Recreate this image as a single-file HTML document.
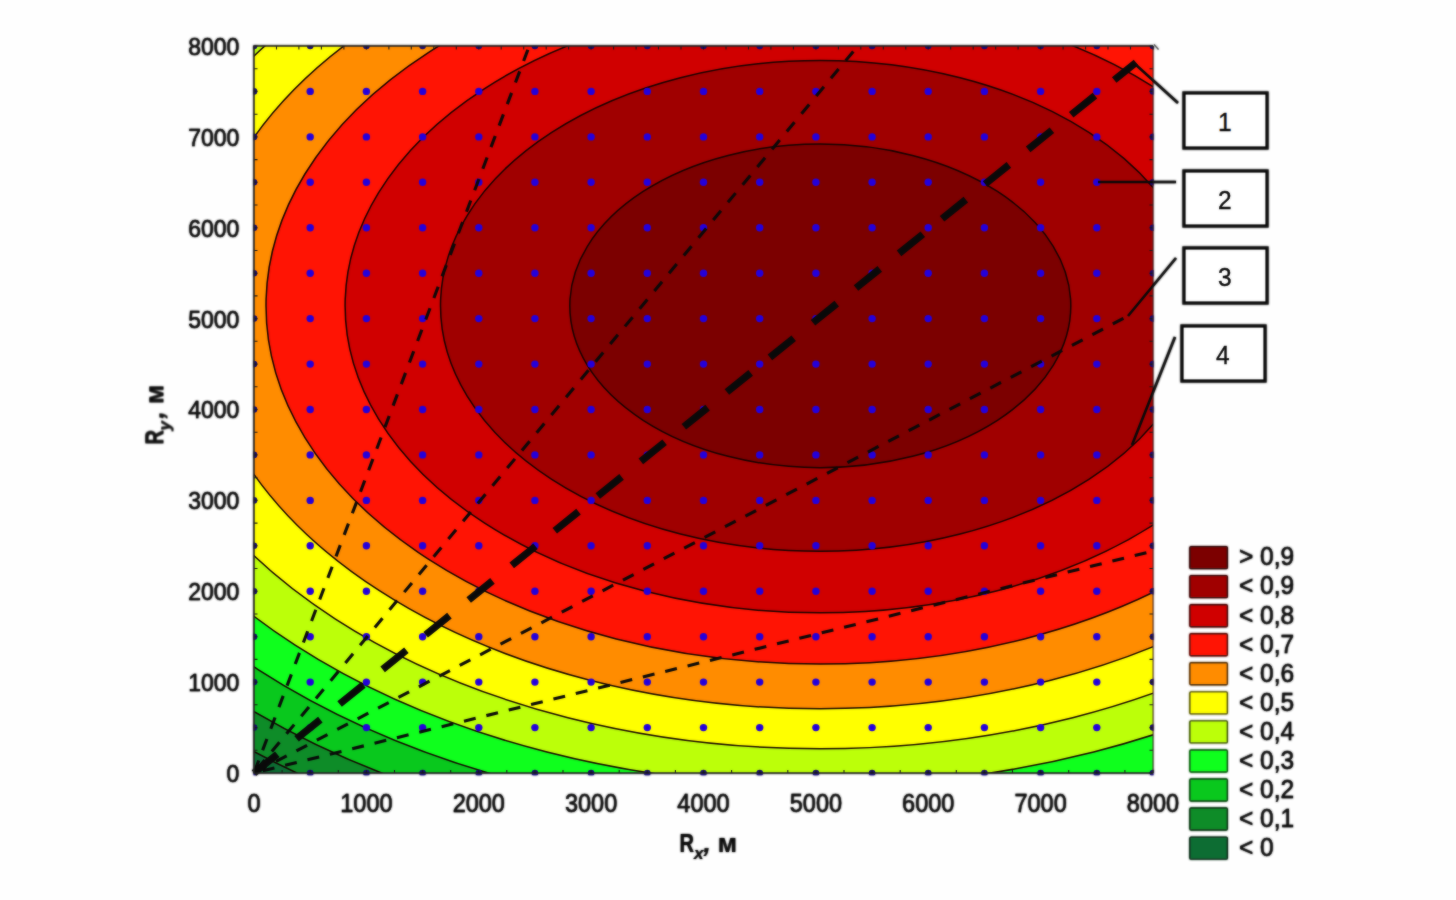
<!DOCTYPE html>
<html><head><meta charset="utf-8"><title>chart</title>
<style>html,body{margin:0;padding:0;background:#fefefe;}svg{display:block;}text{font-family:"Liberation Sans",sans-serif;fill:#0a0a0a;stroke:#0a0a0a;stroke-width:0.38px;}.ax text{stroke-width:0.15px;}</style></head>
<body>
<svg width="1456" height="900" viewBox="0 0 1456 900">
<rect x="0" y="0" width="1456" height="900" fill="#fefefe"/>
<defs><clipPath id="pc"><rect x="254" y="46" width="899" height="727"/></clipPath><clipPath id="pc2"><rect x="253.5" y="46" width="900" height="729.2"/></clipPath><filter id="sf" x="0" y="0" width="100%" height="100%" filterUnits="userSpaceOnUse" color-interpolation-filters="sRGB"><feGaussianBlur stdDeviation="0.8"/></filter></defs>
<g filter="url(#sf)">
<g clip-path="url(#pc)">
<rect x="254" y="46" width="899" height="727" fill="#0e6e34"/>
<path d="M-72.1 305.85A892.4 576.6 0 0 1 1712.7 305.85A892.4 576.6 0 0 1 -72.1 305.85Z" fill="#0f8c28" stroke="#160400" stroke-width="1.5"/>
<path d="M-25.2 305.85A845.5 546.3 0 0 1 1665.8 305.85A845.5 546.3 0 0 1 -25.2 305.85Z" fill="#0ac81e" stroke="#160400" stroke-width="1.5"/>
<path d="M24.5 305.85A795.8 514.2 0 0 1 1616.1 305.85A795.8 514.2 0 0 1 24.5 305.85Z" fill="#10ff1e" stroke="#160400" stroke-width="1.5"/>
<path d="M77.5 305.85A742.8 480.0 0 0 1 1563.1 305.85A742.8 480.0 0 0 1 77.5 305.85Z" fill="#bcff0a" stroke="#160400" stroke-width="1.5"/>
<path d="M134.5 305.85A685.8 443.1 0 0 1 1506.1 305.85A685.8 443.1 0 0 1 134.5 305.85Z" fill="#ffff00" stroke="#160400" stroke-width="1.5"/>
<path d="M196.8 305.85A623.5 402.9 0 0 1 1443.8 305.85A623.5 402.9 0 0 1 196.8 305.85Z" fill="#ff8c00" stroke="#160400" stroke-width="1.5"/>
<path d="M266.0 305.85A554.3 358.2 0 0 1 1374.6 305.85A554.3 358.2 0 0 1 266.0 305.85Z" fill="#ff1405" stroke="#160400" stroke-width="1.5"/>
<path d="M345.1 305.85A475.2 307.0 0 0 1 1295.5 305.85A475.2 307.0 0 0 1 345.1 305.85Z" fill="#d00000" stroke="#160400" stroke-width="1.5"/>
<path d="M440.5 305.85A379.8 245.4 0 0 1 1200.1 305.85A379.8 245.4 0 0 1 440.5 305.85Z" fill="#a00000" stroke="#160400" stroke-width="1.5"/>
<path d="M569.8 305.85A250.5 161.8 0 0 1 1070.8 305.85A250.5 161.8 0 0 1 569.8 305.85Z" fill="#7d0000" stroke="#160400" stroke-width="1.5"/>
<g fill="#2400dc">
<circle cx="310.2" cy="727.6" r="3.7"/>
<circle cx="310.2" cy="682.1" r="3.7"/>
<circle cx="310.2" cy="636.7" r="3.7"/>
<circle cx="310.2" cy="591.2" r="3.7"/>
<circle cx="310.2" cy="545.8" r="3.7"/>
<circle cx="310.2" cy="500.4" r="3.7"/>
<circle cx="310.2" cy="454.9" r="3.7"/>
<circle cx="310.2" cy="409.5" r="3.7"/>
<circle cx="310.2" cy="364.1" r="3.7"/>
<circle cx="310.2" cy="318.6" r="3.7"/>
<circle cx="310.2" cy="273.2" r="3.7"/>
<circle cx="310.2" cy="227.8" r="3.7"/>
<circle cx="310.2" cy="182.3" r="3.7"/>
<circle cx="310.2" cy="136.9" r="3.7"/>
<circle cx="310.2" cy="91.4" r="3.7"/>
<circle cx="366.4" cy="727.6" r="3.7"/>
<circle cx="366.4" cy="682.1" r="3.7"/>
<circle cx="366.4" cy="636.7" r="3.7"/>
<circle cx="366.4" cy="591.2" r="3.7"/>
<circle cx="366.4" cy="545.8" r="3.7"/>
<circle cx="366.4" cy="500.4" r="3.7"/>
<circle cx="366.4" cy="454.9" r="3.7"/>
<circle cx="366.4" cy="409.5" r="3.7"/>
<circle cx="366.4" cy="364.1" r="3.7"/>
<circle cx="366.4" cy="318.6" r="3.7"/>
<circle cx="366.4" cy="273.2" r="3.7"/>
<circle cx="366.4" cy="227.8" r="3.7"/>
<circle cx="366.4" cy="182.3" r="3.7"/>
<circle cx="366.4" cy="136.9" r="3.7"/>
<circle cx="366.4" cy="91.4" r="3.7"/>
<circle cx="422.6" cy="727.6" r="3.7"/>
<circle cx="422.6" cy="682.1" r="3.7"/>
<circle cx="422.6" cy="636.7" r="3.7"/>
<circle cx="422.6" cy="591.2" r="3.7"/>
<circle cx="422.6" cy="545.8" r="3.7"/>
<circle cx="422.6" cy="500.4" r="3.7"/>
<circle cx="422.6" cy="454.9" r="3.7"/>
<circle cx="422.6" cy="409.5" r="3.7"/>
<circle cx="422.6" cy="364.1" r="3.7"/>
<circle cx="422.6" cy="318.6" r="3.7"/>
<circle cx="422.6" cy="273.2" r="3.7"/>
<circle cx="422.6" cy="227.8" r="3.7"/>
<circle cx="422.6" cy="182.3" r="3.7"/>
<circle cx="422.6" cy="136.9" r="3.7"/>
<circle cx="422.6" cy="91.4" r="3.7"/>
<circle cx="478.8" cy="727.6" r="3.7"/>
<circle cx="478.8" cy="682.1" r="3.7"/>
<circle cx="478.8" cy="636.7" r="3.7"/>
<circle cx="478.8" cy="591.2" r="3.7"/>
<circle cx="478.8" cy="545.8" r="3.7"/>
<circle cx="478.8" cy="500.4" r="3.7"/>
<circle cx="478.8" cy="454.9" r="3.7"/>
<circle cx="478.8" cy="409.5" r="3.7"/>
<circle cx="478.8" cy="364.1" r="3.7"/>
<circle cx="478.8" cy="318.6" r="3.7"/>
<circle cx="478.8" cy="273.2" r="3.7"/>
<circle cx="478.8" cy="227.8" r="3.7"/>
<circle cx="478.8" cy="182.3" r="3.7"/>
<circle cx="478.8" cy="136.9" r="3.7"/>
<circle cx="478.8" cy="91.4" r="3.7"/>
<circle cx="534.9" cy="727.6" r="3.7"/>
<circle cx="534.9" cy="682.1" r="3.7"/>
<circle cx="534.9" cy="636.7" r="3.7"/>
<circle cx="534.9" cy="591.2" r="3.7"/>
<circle cx="534.9" cy="545.8" r="3.7"/>
<circle cx="534.9" cy="500.4" r="3.7"/>
<circle cx="534.9" cy="454.9" r="3.7"/>
<circle cx="534.9" cy="409.5" r="3.7"/>
<circle cx="534.9" cy="364.1" r="3.7"/>
<circle cx="534.9" cy="318.6" r="3.7"/>
<circle cx="534.9" cy="273.2" r="3.7"/>
<circle cx="534.9" cy="227.8" r="3.7"/>
<circle cx="534.9" cy="182.3" r="3.7"/>
<circle cx="534.9" cy="136.9" r="3.7"/>
<circle cx="534.9" cy="91.4" r="3.7"/>
<circle cx="591.1" cy="727.6" r="3.7"/>
<circle cx="591.1" cy="682.1" r="3.7"/>
<circle cx="591.1" cy="636.7" r="3.7"/>
<circle cx="591.1" cy="591.2" r="3.7"/>
<circle cx="591.1" cy="545.8" r="3.7"/>
<circle cx="591.1" cy="500.4" r="3.7"/>
<circle cx="591.1" cy="454.9" r="3.7"/>
<circle cx="591.1" cy="409.5" r="3.7"/>
<circle cx="591.1" cy="364.1" r="3.7"/>
<circle cx="591.1" cy="318.6" r="3.7"/>
<circle cx="591.1" cy="273.2" r="3.7"/>
<circle cx="591.1" cy="227.8" r="3.7"/>
<circle cx="591.1" cy="182.3" r="3.7"/>
<circle cx="591.1" cy="136.9" r="3.7"/>
<circle cx="591.1" cy="91.4" r="3.7"/>
<circle cx="647.3" cy="727.6" r="3.7"/>
<circle cx="647.3" cy="682.1" r="3.7"/>
<circle cx="647.3" cy="636.7" r="3.7"/>
<circle cx="647.3" cy="591.2" r="3.7"/>
<circle cx="647.3" cy="545.8" r="3.7"/>
<circle cx="647.3" cy="500.4" r="3.7"/>
<circle cx="647.3" cy="454.9" r="3.7"/>
<circle cx="647.3" cy="409.5" r="3.7"/>
<circle cx="647.3" cy="364.1" r="3.7"/>
<circle cx="647.3" cy="318.6" r="3.7"/>
<circle cx="647.3" cy="273.2" r="3.7"/>
<circle cx="647.3" cy="227.8" r="3.7"/>
<circle cx="647.3" cy="182.3" r="3.7"/>
<circle cx="647.3" cy="136.9" r="3.7"/>
<circle cx="647.3" cy="91.4" r="3.7"/>
<circle cx="703.5" cy="727.6" r="3.7"/>
<circle cx="703.5" cy="682.1" r="3.7"/>
<circle cx="703.5" cy="636.7" r="3.7"/>
<circle cx="703.5" cy="591.2" r="3.7"/>
<circle cx="703.5" cy="545.8" r="3.7"/>
<circle cx="703.5" cy="500.4" r="3.7"/>
<circle cx="703.5" cy="454.9" r="3.7"/>
<circle cx="703.5" cy="409.5" r="3.7"/>
<circle cx="703.5" cy="364.1" r="3.7"/>
<circle cx="703.5" cy="318.6" r="3.7"/>
<circle cx="703.5" cy="273.2" r="3.7"/>
<circle cx="703.5" cy="227.8" r="3.7"/>
<circle cx="703.5" cy="182.3" r="3.7"/>
<circle cx="703.5" cy="136.9" r="3.7"/>
<circle cx="703.5" cy="91.4" r="3.7"/>
<circle cx="759.7" cy="727.6" r="3.7"/>
<circle cx="759.7" cy="682.1" r="3.7"/>
<circle cx="759.7" cy="636.7" r="3.7"/>
<circle cx="759.7" cy="591.2" r="3.7"/>
<circle cx="759.7" cy="545.8" r="3.7"/>
<circle cx="759.7" cy="500.4" r="3.7"/>
<circle cx="759.7" cy="454.9" r="3.7"/>
<circle cx="759.7" cy="409.5" r="3.7"/>
<circle cx="759.7" cy="364.1" r="3.7"/>
<circle cx="759.7" cy="318.6" r="3.7"/>
<circle cx="759.7" cy="273.2" r="3.7"/>
<circle cx="759.7" cy="227.8" r="3.7"/>
<circle cx="759.7" cy="182.3" r="3.7"/>
<circle cx="759.7" cy="136.9" r="3.7"/>
<circle cx="759.7" cy="91.4" r="3.7"/>
<circle cx="815.9" cy="727.6" r="3.7"/>
<circle cx="815.9" cy="682.1" r="3.7"/>
<circle cx="815.9" cy="636.7" r="3.7"/>
<circle cx="815.9" cy="591.2" r="3.7"/>
<circle cx="815.9" cy="545.8" r="3.7"/>
<circle cx="815.9" cy="500.4" r="3.7"/>
<circle cx="815.9" cy="454.9" r="3.7"/>
<circle cx="815.9" cy="409.5" r="3.7"/>
<circle cx="815.9" cy="364.1" r="3.7"/>
<circle cx="815.9" cy="318.6" r="3.7"/>
<circle cx="815.9" cy="273.2" r="3.7"/>
<circle cx="815.9" cy="227.8" r="3.7"/>
<circle cx="815.9" cy="182.3" r="3.7"/>
<circle cx="815.9" cy="136.9" r="3.7"/>
<circle cx="815.9" cy="91.4" r="3.7"/>
<circle cx="872.1" cy="727.6" r="3.7"/>
<circle cx="872.1" cy="682.1" r="3.7"/>
<circle cx="872.1" cy="636.7" r="3.7"/>
<circle cx="872.1" cy="591.2" r="3.7"/>
<circle cx="872.1" cy="545.8" r="3.7"/>
<circle cx="872.1" cy="500.4" r="3.7"/>
<circle cx="872.1" cy="454.9" r="3.7"/>
<circle cx="872.1" cy="409.5" r="3.7"/>
<circle cx="872.1" cy="364.1" r="3.7"/>
<circle cx="872.1" cy="318.6" r="3.7"/>
<circle cx="872.1" cy="273.2" r="3.7"/>
<circle cx="872.1" cy="227.8" r="3.7"/>
<circle cx="872.1" cy="182.3" r="3.7"/>
<circle cx="872.1" cy="136.9" r="3.7"/>
<circle cx="872.1" cy="91.4" r="3.7"/>
<circle cx="928.2" cy="727.6" r="3.7"/>
<circle cx="928.2" cy="682.1" r="3.7"/>
<circle cx="928.2" cy="636.7" r="3.7"/>
<circle cx="928.2" cy="591.2" r="3.7"/>
<circle cx="928.2" cy="545.8" r="3.7"/>
<circle cx="928.2" cy="500.4" r="3.7"/>
<circle cx="928.2" cy="454.9" r="3.7"/>
<circle cx="928.2" cy="409.5" r="3.7"/>
<circle cx="928.2" cy="364.1" r="3.7"/>
<circle cx="928.2" cy="318.6" r="3.7"/>
<circle cx="928.2" cy="273.2" r="3.7"/>
<circle cx="928.2" cy="227.8" r="3.7"/>
<circle cx="928.2" cy="182.3" r="3.7"/>
<circle cx="928.2" cy="136.9" r="3.7"/>
<circle cx="928.2" cy="91.4" r="3.7"/>
<circle cx="984.4" cy="727.6" r="3.7"/>
<circle cx="984.4" cy="682.1" r="3.7"/>
<circle cx="984.4" cy="636.7" r="3.7"/>
<circle cx="984.4" cy="591.2" r="3.7"/>
<circle cx="984.4" cy="545.8" r="3.7"/>
<circle cx="984.4" cy="500.4" r="3.7"/>
<circle cx="984.4" cy="454.9" r="3.7"/>
<circle cx="984.4" cy="409.5" r="3.7"/>
<circle cx="984.4" cy="364.1" r="3.7"/>
<circle cx="984.4" cy="318.6" r="3.7"/>
<circle cx="984.4" cy="273.2" r="3.7"/>
<circle cx="984.4" cy="227.8" r="3.7"/>
<circle cx="984.4" cy="182.3" r="3.7"/>
<circle cx="984.4" cy="136.9" r="3.7"/>
<circle cx="984.4" cy="91.4" r="3.7"/>
<circle cx="1040.6" cy="727.6" r="3.7"/>
<circle cx="1040.6" cy="682.1" r="3.7"/>
<circle cx="1040.6" cy="636.7" r="3.7"/>
<circle cx="1040.6" cy="591.2" r="3.7"/>
<circle cx="1040.6" cy="545.8" r="3.7"/>
<circle cx="1040.6" cy="500.4" r="3.7"/>
<circle cx="1040.6" cy="454.9" r="3.7"/>
<circle cx="1040.6" cy="409.5" r="3.7"/>
<circle cx="1040.6" cy="364.1" r="3.7"/>
<circle cx="1040.6" cy="318.6" r="3.7"/>
<circle cx="1040.6" cy="273.2" r="3.7"/>
<circle cx="1040.6" cy="227.8" r="3.7"/>
<circle cx="1040.6" cy="182.3" r="3.7"/>
<circle cx="1040.6" cy="136.9" r="3.7"/>
<circle cx="1040.6" cy="91.4" r="3.7"/>
<circle cx="1096.8" cy="727.6" r="3.7"/>
<circle cx="1096.8" cy="682.1" r="3.7"/>
<circle cx="1096.8" cy="636.7" r="3.7"/>
<circle cx="1096.8" cy="591.2" r="3.7"/>
<circle cx="1096.8" cy="545.8" r="3.7"/>
<circle cx="1096.8" cy="500.4" r="3.7"/>
<circle cx="1096.8" cy="454.9" r="3.7"/>
<circle cx="1096.8" cy="409.5" r="3.7"/>
<circle cx="1096.8" cy="364.1" r="3.7"/>
<circle cx="1096.8" cy="318.6" r="3.7"/>
<circle cx="1096.8" cy="273.2" r="3.7"/>
<circle cx="1096.8" cy="227.8" r="3.7"/>
<circle cx="1096.8" cy="182.3" r="3.7"/>
<circle cx="1096.8" cy="136.9" r="3.7"/>
<circle cx="1096.8" cy="91.4" r="3.7"/>
</g>
<line x1="254" y1="773" x2="529.3" y2="46" stroke="#0a0a0a" stroke-width="3.1" stroke-dasharray="12 11.03" stroke-dashoffset="21.7"/>
<line x1="254" y1="773" x2="857.8" y2="46" stroke="#0a0a0a" stroke-width="3.1" stroke-dasharray="12 11.03" stroke-dashoffset="18.2"/>
<line x1="254" y1="773" x2="1130" y2="315" stroke="#0a0a0a" stroke-width="3.1" stroke-dasharray="12 11.03" stroke-dashoffset="21.2"/>
<line x1="254" y1="773" x2="1153" y2="551" stroke="#0a0a0a" stroke-width="3.1" stroke-dasharray="12 11.03" stroke-dashoffset="14"/>
</g>
<g clip-path="url(#pc2)" fill="#160a78"><circle cx="254.0" cy="773.0" r="3.3"/><circle cx="254.0" cy="727.6" r="3.3"/><circle cx="254.0" cy="682.1" r="3.3"/><circle cx="254.0" cy="636.7" r="3.3"/><circle cx="254.0" cy="591.2" r="3.3"/><circle cx="254.0" cy="545.8" r="3.3"/><circle cx="254.0" cy="500.4" r="3.3"/><circle cx="254.0" cy="454.9" r="3.3"/><circle cx="254.0" cy="409.5" r="3.3"/><circle cx="254.0" cy="364.1" r="3.3"/><circle cx="254.0" cy="318.6" r="3.3"/><circle cx="254.0" cy="273.2" r="3.3"/><circle cx="254.0" cy="227.8" r="3.3"/><circle cx="254.0" cy="182.3" r="3.3"/><circle cx="254.0" cy="136.9" r="3.3"/><circle cx="254.0" cy="91.4" r="3.3"/><circle cx="254.0" cy="46.0" r="3.3"/><circle cx="310.2" cy="773.0" r="3.3"/><circle cx="310.2" cy="46.0" r="3.3"/><circle cx="366.4" cy="773.0" r="3.3"/><circle cx="366.4" cy="46.0" r="3.3"/><circle cx="422.6" cy="773.0" r="3.3"/><circle cx="422.6" cy="46.0" r="3.3"/><circle cx="478.8" cy="773.0" r="3.3"/><circle cx="478.8" cy="46.0" r="3.3"/><circle cx="534.9" cy="773.0" r="3.3"/><circle cx="534.9" cy="46.0" r="3.3"/><circle cx="591.1" cy="773.0" r="3.3"/><circle cx="591.1" cy="46.0" r="3.3"/><circle cx="647.3" cy="773.0" r="3.3"/><circle cx="647.3" cy="46.0" r="3.3"/><circle cx="703.5" cy="773.0" r="3.3"/><circle cx="703.5" cy="46.0" r="3.3"/><circle cx="759.7" cy="773.0" r="3.3"/><circle cx="759.7" cy="46.0" r="3.3"/><circle cx="815.9" cy="773.0" r="3.3"/><circle cx="815.9" cy="46.0" r="3.3"/><circle cx="872.1" cy="773.0" r="3.3"/><circle cx="872.1" cy="46.0" r="3.3"/><circle cx="928.2" cy="773.0" r="3.3"/><circle cx="928.2" cy="46.0" r="3.3"/><circle cx="984.4" cy="773.0" r="3.3"/><circle cx="984.4" cy="46.0" r="3.3"/><circle cx="1040.6" cy="773.0" r="3.3"/><circle cx="1040.6" cy="46.0" r="3.3"/><circle cx="1096.8" cy="773.0" r="3.3"/><circle cx="1096.8" cy="46.0" r="3.3"/><circle cx="1153.0" cy="773.0" r="3.3"/><circle cx="1153.0" cy="727.6" r="3.3"/><circle cx="1153.0" cy="682.1" r="3.3"/><circle cx="1153.0" cy="636.7" r="3.3"/><circle cx="1153.0" cy="591.2" r="3.3"/><circle cx="1153.0" cy="545.8" r="3.3"/><circle cx="1153.0" cy="500.4" r="3.3"/><circle cx="1153.0" cy="454.9" r="3.3"/><circle cx="1153.0" cy="409.5" r="3.3"/><circle cx="1153.0" cy="364.1" r="3.3"/><circle cx="1153.0" cy="318.6" r="3.3"/><circle cx="1153.0" cy="273.2" r="3.3"/><circle cx="1153.0" cy="227.8" r="3.3"/><circle cx="1153.0" cy="182.3" r="3.3"/><circle cx="1153.0" cy="136.9" r="3.3"/><circle cx="1153.0" cy="91.4" r="3.3"/><circle cx="1153.0" cy="46.0" r="3.3"/></g>
<line x1="254" y1="773" x2="1136" y2="62.5" stroke="#0a0a0a" stroke-width="7.2" stroke-dasharray="30.5 24.76" stroke-dashoffset="0.6"/>
<path d="M1153 46H254V773H1153" fill="none" stroke="#1a1a1a" stroke-width="1.5" stroke-linejoin="miter"/>
<path d="M1153 46V773" fill="none" stroke="#2a0a0a" stroke-opacity="0.75" stroke-width="1.1"/>
<path d="M1154 44.5L1158.5 49.5" fill="none" stroke="#555" stroke-width="1.2"/>
<path d="M254.0 46v3.5M276.5 46v3.5M298.9 46v3.5M321.4 46v3.5M343.9 46v3.5M366.4 46v3.5M388.9 46v3.5M411.3 46v3.5M433.8 46v3.5M456.3 46v3.5M478.8 46v3.5M501.2 46v3.5M523.7 46v3.5M546.2 46v3.5M568.6 46v3.5M591.1 46v3.5M613.6 46v3.5M636.1 46v3.5M658.5 46v3.5M681.0 46v3.5M703.5 46v3.5M726.0 46v3.5M748.5 46v3.5M770.9 46v3.5M793.4 46v3.5M815.9 46v3.5M838.4 46v3.5M860.8 46v3.5M883.3 46v3.5M905.8 46v3.5M928.2 46v3.5M950.7 46v3.5M973.2 46v3.5M995.7 46v3.5M1018.1 46v3.5M1040.6 46v3.5M1063.1 46v3.5M1085.6 46v3.5M1108.0 46v3.5M1130.5 46v3.5M1153.0 46v3.5M254.0 773v-3M254 773.0h3.5M1153 773.0h-3.5M282.1 773v-3M254 750.3h3.5M1153 750.3h-3.5M310.2 773v-3M254 727.6h3.5M1153 727.6h-3.5M338.3 773v-3M254 704.8h3.5M1153 704.8h-3.5M366.4 773v-3M254 682.1h3.5M1153 682.1h-3.5M394.5 773v-3M254 659.4h3.5M1153 659.4h-3.5M422.6 773v-3M254 636.7h3.5M1153 636.7h-3.5M450.7 773v-3M254 614.0h3.5M1153 614.0h-3.5M478.8 773v-3M254 591.2h3.5M1153 591.2h-3.5M506.8 773v-3M254 568.5h3.5M1153 568.5h-3.5M534.9 773v-3M254 545.8h3.5M1153 545.8h-3.5M563.0 773v-3M254 523.1h3.5M1153 523.1h-3.5M591.1 773v-3M254 500.4h3.5M1153 500.4h-3.5M619.2 773v-3M254 477.7h3.5M1153 477.7h-3.5M647.3 773v-3M254 454.9h3.5M1153 454.9h-3.5M675.4 773v-3M254 432.2h3.5M1153 432.2h-3.5M703.5 773v-3M254 409.5h3.5M1153 409.5h-3.5M731.6 773v-3M254 386.8h3.5M1153 386.8h-3.5M759.7 773v-3M254 364.1h3.5M1153 364.1h-3.5M787.8 773v-3M254 341.3h3.5M1153 341.3h-3.5M815.9 773v-3M254 318.6h3.5M1153 318.6h-3.5M844.0 773v-3M254 295.9h3.5M1153 295.9h-3.5M872.1 773v-3M254 273.2h3.5M1153 273.2h-3.5M900.2 773v-3M254 250.5h3.5M1153 250.5h-3.5M928.2 773v-3M254 227.8h3.5M1153 227.8h-3.5M956.3 773v-3M254 205.0h3.5M1153 205.0h-3.5M984.4 773v-3M254 182.3h3.5M1153 182.3h-3.5M1012.5 773v-3M254 159.6h3.5M1153 159.6h-3.5M1040.6 773v-3M254 136.9h3.5M1153 136.9h-3.5M1068.7 773v-3M254 114.2h3.5M1153 114.2h-3.5M1096.8 773v-3M254 91.4h3.5M1153 91.4h-3.5M1124.9 773v-3M254 68.7h3.5M1153 68.7h-3.5M1153.0 773v-3M254 46.0h3.5M1153 46.0h-3.5" stroke="#1a1a1a" stroke-width="1.1" fill="none"/>
<g font-size="23" text-anchor="end">
<text transform="translate(239.3,781.9) scale(1,1.07)">0</text>
<text transform="translate(239.3,691.0) scale(1,1.07)">1000</text>
<text transform="translate(239.3,600.1) scale(1,1.07)">2000</text>
<text transform="translate(239.3,509.3) scale(1,1.07)">3000</text>
<text transform="translate(239.3,418.4) scale(1,1.07)">4000</text>
<text transform="translate(239.3,327.5) scale(1,1.07)">5000</text>
<text transform="translate(239.3,236.7) scale(1,1.07)">6000</text>
<text transform="translate(239.3,145.8) scale(1,1.07)">7000</text>
<text transform="translate(239.3,54.9) scale(1,1.07)">8000</text>
</g>
<g font-size="23.5" text-anchor="middle">
<text transform="translate(254.0,811.6) scale(1,1.07)">0</text>
<text transform="translate(366.4,811.6) scale(1,1.07)">1000</text>
<text transform="translate(478.8,811.6) scale(1,1.07)">2000</text>
<text transform="translate(591.1,811.6) scale(1,1.07)">3000</text>
<text transform="translate(703.5,811.6) scale(1,1.07)">4000</text>
<text transform="translate(815.9,811.6) scale(1,1.07)">5000</text>
<text transform="translate(928.2,811.6) scale(1,1.07)">6000</text>
<text transform="translate(1040.6,811.6) scale(1,1.07)">7000</text>
<text transform="translate(1153.0,811.6) scale(1,1.07)">8000</text>
</g>
<g class="ax" transform="translate(679.5,852.3)"><text transform="scale(0.76,1)" x="0" y="0" font-size="26.5" font-weight="bold">R</text><text x="14.5" y="6.5" font-size="17" font-weight="bold" font-style="italic">x</text><text x="24" y="0" font-size="26" font-weight="bold" font-style="italic">,</text><text x="38.3" y="0" font-size="26" font-weight="bold">м</text></g>
<g class="ax" transform="translate(163.4,444.5) rotate(-90)"><text transform="scale(0.76,1)" x="0" y="0" font-size="26.5" font-weight="bold">R</text><text x="14" y="6.5" font-size="17" font-weight="bold" font-style="italic">y</text><text x="26" y="0" font-size="26" font-weight="bold" font-style="italic">,</text><text x="40.5" y="0" font-size="26" font-weight="bold">м</text></g>
<rect x="1189.9" y="546.6" width="37.4" height="22" rx="1.2" fill="#7d0000" stroke="#290000" stroke-width="1.4"/>
<text transform="translate(1239,565.4) scale(1,1.08)" font-size="24.5">&gt; 0,9</text>
<rect x="1189.9" y="575.6" width="37.4" height="22" rx="1.2" fill="#a00000" stroke="#340000" stroke-width="1.4"/>
<text transform="translate(1239,594.4) scale(1,1.08)" font-size="24.5">&lt; 0,9</text>
<rect x="1189.9" y="604.7" width="37.4" height="22" rx="1.2" fill="#d00000" stroke="#440000" stroke-width="1.4"/>
<text transform="translate(1239,623.5) scale(1,1.08)" font-size="24.5">&lt; 0,8</text>
<rect x="1189.9" y="633.8" width="37.4" height="22" rx="1.2" fill="#ff1405" stroke="#540601" stroke-width="1.4"/>
<text transform="translate(1239,652.5) scale(1,1.08)" font-size="24.5">&lt; 0,7</text>
<rect x="1189.9" y="662.8" width="37.4" height="22" rx="1.2" fill="#ff8c00" stroke="#542e00" stroke-width="1.4"/>
<text transform="translate(1239,681.6) scale(1,1.08)" font-size="24.5">&lt; 0,6</text>
<rect x="1189.9" y="691.9" width="37.4" height="22" rx="1.2" fill="#ffff00" stroke="#545400" stroke-width="1.4"/>
<text transform="translate(1239,710.6) scale(1,1.08)" font-size="24.5">&lt; 0,5</text>
<rect x="1189.9" y="720.9" width="37.4" height="22" rx="1.2" fill="#bcff0a" stroke="#3e5403" stroke-width="1.4"/>
<text transform="translate(1239,739.7) scale(1,1.08)" font-size="24.5">&lt; 0,4</text>
<rect x="1189.9" y="750.0" width="37.4" height="22" rx="1.2" fill="#10ff1e" stroke="#055409" stroke-width="1.4"/>
<text transform="translate(1239,768.8) scale(1,1.08)" font-size="24.5">&lt; 0,3</text>
<rect x="1189.9" y="779.0" width="37.4" height="22" rx="1.2" fill="#0ac81e" stroke="#034209" stroke-width="1.4"/>
<text transform="translate(1239,797.8) scale(1,1.08)" font-size="24.5">&lt; 0,2</text>
<rect x="1189.9" y="808.0" width="37.4" height="22" rx="1.2" fill="#0f8c28" stroke="#042e0d" stroke-width="1.4"/>
<text transform="translate(1239,826.8) scale(1,1.08)" font-size="24.5">&lt; 0,1</text>
<rect x="1189.9" y="837.1" width="37.4" height="22" rx="1.2" fill="#0e6e34" stroke="#042411" stroke-width="1.4"/>
<text transform="translate(1239,855.9) scale(1,1.08)" font-size="24.5">&lt; 0</text>
<rect x="1184" y="93" width="83" height="55" fill="#fff" stroke="#080808" stroke-width="3.2"/>
<text transform="translate(1224.8,131) scale(1,1.08)" font-size="24.5" text-anchor="middle">1</text>
<rect x="1184" y="171" width="83" height="55" fill="#fff" stroke="#080808" stroke-width="3.2"/>
<text transform="translate(1224.8,209) scale(1,1.08)" font-size="24.5" text-anchor="middle">2</text>
<rect x="1184" y="248" width="83" height="55" fill="#fff" stroke="#080808" stroke-width="3.2"/>
<text transform="translate(1224.8,286) scale(1,1.08)" font-size="24.5" text-anchor="middle">3</text>
<rect x="1182" y="326" width="83" height="55" fill="#fff" stroke="#080808" stroke-width="3.2"/>
<text transform="translate(1222.8,364) scale(1,1.08)" font-size="24.5" text-anchor="middle">4</text>
<path d="M1135 64L1178 103M1098 182H1176M1176 258L1128 316M1175 337L1132 445" stroke="#0a0a0a" stroke-width="2.6" fill="none"/>
</g>
<g opacity="0.55">
<g clip-path="url(#pc)">
<rect x="254" y="46" width="899" height="727" fill="#0e6e34"/>
<path d="M-72.1 305.85A892.4 576.6 0 0 1 1712.7 305.85A892.4 576.6 0 0 1 -72.1 305.85Z" fill="#0f8c28" stroke="#160400" stroke-width="1.5"/>
<path d="M-25.2 305.85A845.5 546.3 0 0 1 1665.8 305.85A845.5 546.3 0 0 1 -25.2 305.85Z" fill="#0ac81e" stroke="#160400" stroke-width="1.5"/>
<path d="M24.5 305.85A795.8 514.2 0 0 1 1616.1 305.85A795.8 514.2 0 0 1 24.5 305.85Z" fill="#10ff1e" stroke="#160400" stroke-width="1.5"/>
<path d="M77.5 305.85A742.8 480.0 0 0 1 1563.1 305.85A742.8 480.0 0 0 1 77.5 305.85Z" fill="#bcff0a" stroke="#160400" stroke-width="1.5"/>
<path d="M134.5 305.85A685.8 443.1 0 0 1 1506.1 305.85A685.8 443.1 0 0 1 134.5 305.85Z" fill="#ffff00" stroke="#160400" stroke-width="1.5"/>
<path d="M196.8 305.85A623.5 402.9 0 0 1 1443.8 305.85A623.5 402.9 0 0 1 196.8 305.85Z" fill="#ff8c00" stroke="#160400" stroke-width="1.5"/>
<path d="M266.0 305.85A554.3 358.2 0 0 1 1374.6 305.85A554.3 358.2 0 0 1 266.0 305.85Z" fill="#ff1405" stroke="#160400" stroke-width="1.5"/>
<path d="M345.1 305.85A475.2 307.0 0 0 1 1295.5 305.85A475.2 307.0 0 0 1 345.1 305.85Z" fill="#d00000" stroke="#160400" stroke-width="1.5"/>
<path d="M440.5 305.85A379.8 245.4 0 0 1 1200.1 305.85A379.8 245.4 0 0 1 440.5 305.85Z" fill="#a00000" stroke="#160400" stroke-width="1.5"/>
<path d="M569.8 305.85A250.5 161.8 0 0 1 1070.8 305.85A250.5 161.8 0 0 1 569.8 305.85Z" fill="#7d0000" stroke="#160400" stroke-width="1.5"/>
<g fill="#2400dc">
<circle cx="310.2" cy="727.6" r="3.7"/>
<circle cx="310.2" cy="682.1" r="3.7"/>
<circle cx="310.2" cy="636.7" r="3.7"/>
<circle cx="310.2" cy="591.2" r="3.7"/>
<circle cx="310.2" cy="545.8" r="3.7"/>
<circle cx="310.2" cy="500.4" r="3.7"/>
<circle cx="310.2" cy="454.9" r="3.7"/>
<circle cx="310.2" cy="409.5" r="3.7"/>
<circle cx="310.2" cy="364.1" r="3.7"/>
<circle cx="310.2" cy="318.6" r="3.7"/>
<circle cx="310.2" cy="273.2" r="3.7"/>
<circle cx="310.2" cy="227.8" r="3.7"/>
<circle cx="310.2" cy="182.3" r="3.7"/>
<circle cx="310.2" cy="136.9" r="3.7"/>
<circle cx="310.2" cy="91.4" r="3.7"/>
<circle cx="366.4" cy="727.6" r="3.7"/>
<circle cx="366.4" cy="682.1" r="3.7"/>
<circle cx="366.4" cy="636.7" r="3.7"/>
<circle cx="366.4" cy="591.2" r="3.7"/>
<circle cx="366.4" cy="545.8" r="3.7"/>
<circle cx="366.4" cy="500.4" r="3.7"/>
<circle cx="366.4" cy="454.9" r="3.7"/>
<circle cx="366.4" cy="409.5" r="3.7"/>
<circle cx="366.4" cy="364.1" r="3.7"/>
<circle cx="366.4" cy="318.6" r="3.7"/>
<circle cx="366.4" cy="273.2" r="3.7"/>
<circle cx="366.4" cy="227.8" r="3.7"/>
<circle cx="366.4" cy="182.3" r="3.7"/>
<circle cx="366.4" cy="136.9" r="3.7"/>
<circle cx="366.4" cy="91.4" r="3.7"/>
<circle cx="422.6" cy="727.6" r="3.7"/>
<circle cx="422.6" cy="682.1" r="3.7"/>
<circle cx="422.6" cy="636.7" r="3.7"/>
<circle cx="422.6" cy="591.2" r="3.7"/>
<circle cx="422.6" cy="545.8" r="3.7"/>
<circle cx="422.6" cy="500.4" r="3.7"/>
<circle cx="422.6" cy="454.9" r="3.7"/>
<circle cx="422.6" cy="409.5" r="3.7"/>
<circle cx="422.6" cy="364.1" r="3.7"/>
<circle cx="422.6" cy="318.6" r="3.7"/>
<circle cx="422.6" cy="273.2" r="3.7"/>
<circle cx="422.6" cy="227.8" r="3.7"/>
<circle cx="422.6" cy="182.3" r="3.7"/>
<circle cx="422.6" cy="136.9" r="3.7"/>
<circle cx="422.6" cy="91.4" r="3.7"/>
<circle cx="478.8" cy="727.6" r="3.7"/>
<circle cx="478.8" cy="682.1" r="3.7"/>
<circle cx="478.8" cy="636.7" r="3.7"/>
<circle cx="478.8" cy="591.2" r="3.7"/>
<circle cx="478.8" cy="545.8" r="3.7"/>
<circle cx="478.8" cy="500.4" r="3.7"/>
<circle cx="478.8" cy="454.9" r="3.7"/>
<circle cx="478.8" cy="409.5" r="3.7"/>
<circle cx="478.8" cy="364.1" r="3.7"/>
<circle cx="478.8" cy="318.6" r="3.7"/>
<circle cx="478.8" cy="273.2" r="3.7"/>
<circle cx="478.8" cy="227.8" r="3.7"/>
<circle cx="478.8" cy="182.3" r="3.7"/>
<circle cx="478.8" cy="136.9" r="3.7"/>
<circle cx="478.8" cy="91.4" r="3.7"/>
<circle cx="534.9" cy="727.6" r="3.7"/>
<circle cx="534.9" cy="682.1" r="3.7"/>
<circle cx="534.9" cy="636.7" r="3.7"/>
<circle cx="534.9" cy="591.2" r="3.7"/>
<circle cx="534.9" cy="545.8" r="3.7"/>
<circle cx="534.9" cy="500.4" r="3.7"/>
<circle cx="534.9" cy="454.9" r="3.7"/>
<circle cx="534.9" cy="409.5" r="3.7"/>
<circle cx="534.9" cy="364.1" r="3.7"/>
<circle cx="534.9" cy="318.6" r="3.7"/>
<circle cx="534.9" cy="273.2" r="3.7"/>
<circle cx="534.9" cy="227.8" r="3.7"/>
<circle cx="534.9" cy="182.3" r="3.7"/>
<circle cx="534.9" cy="136.9" r="3.7"/>
<circle cx="534.9" cy="91.4" r="3.7"/>
<circle cx="591.1" cy="727.6" r="3.7"/>
<circle cx="591.1" cy="682.1" r="3.7"/>
<circle cx="591.1" cy="636.7" r="3.7"/>
<circle cx="591.1" cy="591.2" r="3.7"/>
<circle cx="591.1" cy="545.8" r="3.7"/>
<circle cx="591.1" cy="500.4" r="3.7"/>
<circle cx="591.1" cy="454.9" r="3.7"/>
<circle cx="591.1" cy="409.5" r="3.7"/>
<circle cx="591.1" cy="364.1" r="3.7"/>
<circle cx="591.1" cy="318.6" r="3.7"/>
<circle cx="591.1" cy="273.2" r="3.7"/>
<circle cx="591.1" cy="227.8" r="3.7"/>
<circle cx="591.1" cy="182.3" r="3.7"/>
<circle cx="591.1" cy="136.9" r="3.7"/>
<circle cx="591.1" cy="91.4" r="3.7"/>
<circle cx="647.3" cy="727.6" r="3.7"/>
<circle cx="647.3" cy="682.1" r="3.7"/>
<circle cx="647.3" cy="636.7" r="3.7"/>
<circle cx="647.3" cy="591.2" r="3.7"/>
<circle cx="647.3" cy="545.8" r="3.7"/>
<circle cx="647.3" cy="500.4" r="3.7"/>
<circle cx="647.3" cy="454.9" r="3.7"/>
<circle cx="647.3" cy="409.5" r="3.7"/>
<circle cx="647.3" cy="364.1" r="3.7"/>
<circle cx="647.3" cy="318.6" r="3.7"/>
<circle cx="647.3" cy="273.2" r="3.7"/>
<circle cx="647.3" cy="227.8" r="3.7"/>
<circle cx="647.3" cy="182.3" r="3.7"/>
<circle cx="647.3" cy="136.9" r="3.7"/>
<circle cx="647.3" cy="91.4" r="3.7"/>
<circle cx="703.5" cy="727.6" r="3.7"/>
<circle cx="703.5" cy="682.1" r="3.7"/>
<circle cx="703.5" cy="636.7" r="3.7"/>
<circle cx="703.5" cy="591.2" r="3.7"/>
<circle cx="703.5" cy="545.8" r="3.7"/>
<circle cx="703.5" cy="500.4" r="3.7"/>
<circle cx="703.5" cy="454.9" r="3.7"/>
<circle cx="703.5" cy="409.5" r="3.7"/>
<circle cx="703.5" cy="364.1" r="3.7"/>
<circle cx="703.5" cy="318.6" r="3.7"/>
<circle cx="703.5" cy="273.2" r="3.7"/>
<circle cx="703.5" cy="227.8" r="3.7"/>
<circle cx="703.5" cy="182.3" r="3.7"/>
<circle cx="703.5" cy="136.9" r="3.7"/>
<circle cx="703.5" cy="91.4" r="3.7"/>
<circle cx="759.7" cy="727.6" r="3.7"/>
<circle cx="759.7" cy="682.1" r="3.7"/>
<circle cx="759.7" cy="636.7" r="3.7"/>
<circle cx="759.7" cy="591.2" r="3.7"/>
<circle cx="759.7" cy="545.8" r="3.7"/>
<circle cx="759.7" cy="500.4" r="3.7"/>
<circle cx="759.7" cy="454.9" r="3.7"/>
<circle cx="759.7" cy="409.5" r="3.7"/>
<circle cx="759.7" cy="364.1" r="3.7"/>
<circle cx="759.7" cy="318.6" r="3.7"/>
<circle cx="759.7" cy="273.2" r="3.7"/>
<circle cx="759.7" cy="227.8" r="3.7"/>
<circle cx="759.7" cy="182.3" r="3.7"/>
<circle cx="759.7" cy="136.9" r="3.7"/>
<circle cx="759.7" cy="91.4" r="3.7"/>
<circle cx="815.9" cy="727.6" r="3.7"/>
<circle cx="815.9" cy="682.1" r="3.7"/>
<circle cx="815.9" cy="636.7" r="3.7"/>
<circle cx="815.9" cy="591.2" r="3.7"/>
<circle cx="815.9" cy="545.8" r="3.7"/>
<circle cx="815.9" cy="500.4" r="3.7"/>
<circle cx="815.9" cy="454.9" r="3.7"/>
<circle cx="815.9" cy="409.5" r="3.7"/>
<circle cx="815.9" cy="364.1" r="3.7"/>
<circle cx="815.9" cy="318.6" r="3.7"/>
<circle cx="815.9" cy="273.2" r="3.7"/>
<circle cx="815.9" cy="227.8" r="3.7"/>
<circle cx="815.9" cy="182.3" r="3.7"/>
<circle cx="815.9" cy="136.9" r="3.7"/>
<circle cx="815.9" cy="91.4" r="3.7"/>
<circle cx="872.1" cy="727.6" r="3.7"/>
<circle cx="872.1" cy="682.1" r="3.7"/>
<circle cx="872.1" cy="636.7" r="3.7"/>
<circle cx="872.1" cy="591.2" r="3.7"/>
<circle cx="872.1" cy="545.8" r="3.7"/>
<circle cx="872.1" cy="500.4" r="3.7"/>
<circle cx="872.1" cy="454.9" r="3.7"/>
<circle cx="872.1" cy="409.5" r="3.7"/>
<circle cx="872.1" cy="364.1" r="3.7"/>
<circle cx="872.1" cy="318.6" r="3.7"/>
<circle cx="872.1" cy="273.2" r="3.7"/>
<circle cx="872.1" cy="227.8" r="3.7"/>
<circle cx="872.1" cy="182.3" r="3.7"/>
<circle cx="872.1" cy="136.9" r="3.7"/>
<circle cx="872.1" cy="91.4" r="3.7"/>
<circle cx="928.2" cy="727.6" r="3.7"/>
<circle cx="928.2" cy="682.1" r="3.7"/>
<circle cx="928.2" cy="636.7" r="3.7"/>
<circle cx="928.2" cy="591.2" r="3.7"/>
<circle cx="928.2" cy="545.8" r="3.7"/>
<circle cx="928.2" cy="500.4" r="3.7"/>
<circle cx="928.2" cy="454.9" r="3.7"/>
<circle cx="928.2" cy="409.5" r="3.7"/>
<circle cx="928.2" cy="364.1" r="3.7"/>
<circle cx="928.2" cy="318.6" r="3.7"/>
<circle cx="928.2" cy="273.2" r="3.7"/>
<circle cx="928.2" cy="227.8" r="3.7"/>
<circle cx="928.2" cy="182.3" r="3.7"/>
<circle cx="928.2" cy="136.9" r="3.7"/>
<circle cx="928.2" cy="91.4" r="3.7"/>
<circle cx="984.4" cy="727.6" r="3.7"/>
<circle cx="984.4" cy="682.1" r="3.7"/>
<circle cx="984.4" cy="636.7" r="3.7"/>
<circle cx="984.4" cy="591.2" r="3.7"/>
<circle cx="984.4" cy="545.8" r="3.7"/>
<circle cx="984.4" cy="500.4" r="3.7"/>
<circle cx="984.4" cy="454.9" r="3.7"/>
<circle cx="984.4" cy="409.5" r="3.7"/>
<circle cx="984.4" cy="364.1" r="3.7"/>
<circle cx="984.4" cy="318.6" r="3.7"/>
<circle cx="984.4" cy="273.2" r="3.7"/>
<circle cx="984.4" cy="227.8" r="3.7"/>
<circle cx="984.4" cy="182.3" r="3.7"/>
<circle cx="984.4" cy="136.9" r="3.7"/>
<circle cx="984.4" cy="91.4" r="3.7"/>
<circle cx="1040.6" cy="727.6" r="3.7"/>
<circle cx="1040.6" cy="682.1" r="3.7"/>
<circle cx="1040.6" cy="636.7" r="3.7"/>
<circle cx="1040.6" cy="591.2" r="3.7"/>
<circle cx="1040.6" cy="545.8" r="3.7"/>
<circle cx="1040.6" cy="500.4" r="3.7"/>
<circle cx="1040.6" cy="454.9" r="3.7"/>
<circle cx="1040.6" cy="409.5" r="3.7"/>
<circle cx="1040.6" cy="364.1" r="3.7"/>
<circle cx="1040.6" cy="318.6" r="3.7"/>
<circle cx="1040.6" cy="273.2" r="3.7"/>
<circle cx="1040.6" cy="227.8" r="3.7"/>
<circle cx="1040.6" cy="182.3" r="3.7"/>
<circle cx="1040.6" cy="136.9" r="3.7"/>
<circle cx="1040.6" cy="91.4" r="3.7"/>
<circle cx="1096.8" cy="727.6" r="3.7"/>
<circle cx="1096.8" cy="682.1" r="3.7"/>
<circle cx="1096.8" cy="636.7" r="3.7"/>
<circle cx="1096.8" cy="591.2" r="3.7"/>
<circle cx="1096.8" cy="545.8" r="3.7"/>
<circle cx="1096.8" cy="500.4" r="3.7"/>
<circle cx="1096.8" cy="454.9" r="3.7"/>
<circle cx="1096.8" cy="409.5" r="3.7"/>
<circle cx="1096.8" cy="364.1" r="3.7"/>
<circle cx="1096.8" cy="318.6" r="3.7"/>
<circle cx="1096.8" cy="273.2" r="3.7"/>
<circle cx="1096.8" cy="227.8" r="3.7"/>
<circle cx="1096.8" cy="182.3" r="3.7"/>
<circle cx="1096.8" cy="136.9" r="3.7"/>
<circle cx="1096.8" cy="91.4" r="3.7"/>
</g>
<line x1="254" y1="773" x2="529.3" y2="46" stroke="#0a0a0a" stroke-width="3.1" stroke-dasharray="12 11.03" stroke-dashoffset="21.7"/>
<line x1="254" y1="773" x2="857.8" y2="46" stroke="#0a0a0a" stroke-width="3.1" stroke-dasharray="12 11.03" stroke-dashoffset="18.2"/>
<line x1="254" y1="773" x2="1130" y2="315" stroke="#0a0a0a" stroke-width="3.1" stroke-dasharray="12 11.03" stroke-dashoffset="21.2"/>
<line x1="254" y1="773" x2="1153" y2="551" stroke="#0a0a0a" stroke-width="3.1" stroke-dasharray="12 11.03" stroke-dashoffset="14"/>
</g>
<g clip-path="url(#pc2)" fill="#160a78"><circle cx="254.0" cy="773.0" r="3.3"/><circle cx="254.0" cy="727.6" r="3.3"/><circle cx="254.0" cy="682.1" r="3.3"/><circle cx="254.0" cy="636.7" r="3.3"/><circle cx="254.0" cy="591.2" r="3.3"/><circle cx="254.0" cy="545.8" r="3.3"/><circle cx="254.0" cy="500.4" r="3.3"/><circle cx="254.0" cy="454.9" r="3.3"/><circle cx="254.0" cy="409.5" r="3.3"/><circle cx="254.0" cy="364.1" r="3.3"/><circle cx="254.0" cy="318.6" r="3.3"/><circle cx="254.0" cy="273.2" r="3.3"/><circle cx="254.0" cy="227.8" r="3.3"/><circle cx="254.0" cy="182.3" r="3.3"/><circle cx="254.0" cy="136.9" r="3.3"/><circle cx="254.0" cy="91.4" r="3.3"/><circle cx="254.0" cy="46.0" r="3.3"/><circle cx="310.2" cy="773.0" r="3.3"/><circle cx="310.2" cy="46.0" r="3.3"/><circle cx="366.4" cy="773.0" r="3.3"/><circle cx="366.4" cy="46.0" r="3.3"/><circle cx="422.6" cy="773.0" r="3.3"/><circle cx="422.6" cy="46.0" r="3.3"/><circle cx="478.8" cy="773.0" r="3.3"/><circle cx="478.8" cy="46.0" r="3.3"/><circle cx="534.9" cy="773.0" r="3.3"/><circle cx="534.9" cy="46.0" r="3.3"/><circle cx="591.1" cy="773.0" r="3.3"/><circle cx="591.1" cy="46.0" r="3.3"/><circle cx="647.3" cy="773.0" r="3.3"/><circle cx="647.3" cy="46.0" r="3.3"/><circle cx="703.5" cy="773.0" r="3.3"/><circle cx="703.5" cy="46.0" r="3.3"/><circle cx="759.7" cy="773.0" r="3.3"/><circle cx="759.7" cy="46.0" r="3.3"/><circle cx="815.9" cy="773.0" r="3.3"/><circle cx="815.9" cy="46.0" r="3.3"/><circle cx="872.1" cy="773.0" r="3.3"/><circle cx="872.1" cy="46.0" r="3.3"/><circle cx="928.2" cy="773.0" r="3.3"/><circle cx="928.2" cy="46.0" r="3.3"/><circle cx="984.4" cy="773.0" r="3.3"/><circle cx="984.4" cy="46.0" r="3.3"/><circle cx="1040.6" cy="773.0" r="3.3"/><circle cx="1040.6" cy="46.0" r="3.3"/><circle cx="1096.8" cy="773.0" r="3.3"/><circle cx="1096.8" cy="46.0" r="3.3"/><circle cx="1153.0" cy="773.0" r="3.3"/><circle cx="1153.0" cy="727.6" r="3.3"/><circle cx="1153.0" cy="682.1" r="3.3"/><circle cx="1153.0" cy="636.7" r="3.3"/><circle cx="1153.0" cy="591.2" r="3.3"/><circle cx="1153.0" cy="545.8" r="3.3"/><circle cx="1153.0" cy="500.4" r="3.3"/><circle cx="1153.0" cy="454.9" r="3.3"/><circle cx="1153.0" cy="409.5" r="3.3"/><circle cx="1153.0" cy="364.1" r="3.3"/><circle cx="1153.0" cy="318.6" r="3.3"/><circle cx="1153.0" cy="273.2" r="3.3"/><circle cx="1153.0" cy="227.8" r="3.3"/><circle cx="1153.0" cy="182.3" r="3.3"/><circle cx="1153.0" cy="136.9" r="3.3"/><circle cx="1153.0" cy="91.4" r="3.3"/><circle cx="1153.0" cy="46.0" r="3.3"/></g>
<line x1="254" y1="773" x2="1136" y2="62.5" stroke="#0a0a0a" stroke-width="7.2" stroke-dasharray="30.5 24.76" stroke-dashoffset="0.6"/>
<path d="M1153 46H254V773H1153" fill="none" stroke="#1a1a1a" stroke-width="1.5" stroke-linejoin="miter"/>
<path d="M1153 46V773" fill="none" stroke="#2a0a0a" stroke-opacity="0.75" stroke-width="1.1"/>
<path d="M1154 44.5L1158.5 49.5" fill="none" stroke="#555" stroke-width="1.2"/>
<path d="M254.0 46v3.5M276.5 46v3.5M298.9 46v3.5M321.4 46v3.5M343.9 46v3.5M366.4 46v3.5M388.9 46v3.5M411.3 46v3.5M433.8 46v3.5M456.3 46v3.5M478.8 46v3.5M501.2 46v3.5M523.7 46v3.5M546.2 46v3.5M568.6 46v3.5M591.1 46v3.5M613.6 46v3.5M636.1 46v3.5M658.5 46v3.5M681.0 46v3.5M703.5 46v3.5M726.0 46v3.5M748.5 46v3.5M770.9 46v3.5M793.4 46v3.5M815.9 46v3.5M838.4 46v3.5M860.8 46v3.5M883.3 46v3.5M905.8 46v3.5M928.2 46v3.5M950.7 46v3.5M973.2 46v3.5M995.7 46v3.5M1018.1 46v3.5M1040.6 46v3.5M1063.1 46v3.5M1085.6 46v3.5M1108.0 46v3.5M1130.5 46v3.5M1153.0 46v3.5M254.0 773v-3M254 773.0h3.5M1153 773.0h-3.5M282.1 773v-3M254 750.3h3.5M1153 750.3h-3.5M310.2 773v-3M254 727.6h3.5M1153 727.6h-3.5M338.3 773v-3M254 704.8h3.5M1153 704.8h-3.5M366.4 773v-3M254 682.1h3.5M1153 682.1h-3.5M394.5 773v-3M254 659.4h3.5M1153 659.4h-3.5M422.6 773v-3M254 636.7h3.5M1153 636.7h-3.5M450.7 773v-3M254 614.0h3.5M1153 614.0h-3.5M478.8 773v-3M254 591.2h3.5M1153 591.2h-3.5M506.8 773v-3M254 568.5h3.5M1153 568.5h-3.5M534.9 773v-3M254 545.8h3.5M1153 545.8h-3.5M563.0 773v-3M254 523.1h3.5M1153 523.1h-3.5M591.1 773v-3M254 500.4h3.5M1153 500.4h-3.5M619.2 773v-3M254 477.7h3.5M1153 477.7h-3.5M647.3 773v-3M254 454.9h3.5M1153 454.9h-3.5M675.4 773v-3M254 432.2h3.5M1153 432.2h-3.5M703.5 773v-3M254 409.5h3.5M1153 409.5h-3.5M731.6 773v-3M254 386.8h3.5M1153 386.8h-3.5M759.7 773v-3M254 364.1h3.5M1153 364.1h-3.5M787.8 773v-3M254 341.3h3.5M1153 341.3h-3.5M815.9 773v-3M254 318.6h3.5M1153 318.6h-3.5M844.0 773v-3M254 295.9h3.5M1153 295.9h-3.5M872.1 773v-3M254 273.2h3.5M1153 273.2h-3.5M900.2 773v-3M254 250.5h3.5M1153 250.5h-3.5M928.2 773v-3M254 227.8h3.5M1153 227.8h-3.5M956.3 773v-3M254 205.0h3.5M1153 205.0h-3.5M984.4 773v-3M254 182.3h3.5M1153 182.3h-3.5M1012.5 773v-3M254 159.6h3.5M1153 159.6h-3.5M1040.6 773v-3M254 136.9h3.5M1153 136.9h-3.5M1068.7 773v-3M254 114.2h3.5M1153 114.2h-3.5M1096.8 773v-3M254 91.4h3.5M1153 91.4h-3.5M1124.9 773v-3M254 68.7h3.5M1153 68.7h-3.5M1153.0 773v-3M254 46.0h3.5M1153 46.0h-3.5" stroke="#1a1a1a" stroke-width="1.1" fill="none"/>
<g font-size="23" text-anchor="end">
<text transform="translate(239.3,781.9) scale(1,1.07)">0</text>
<text transform="translate(239.3,691.0) scale(1,1.07)">1000</text>
<text transform="translate(239.3,600.1) scale(1,1.07)">2000</text>
<text transform="translate(239.3,509.3) scale(1,1.07)">3000</text>
<text transform="translate(239.3,418.4) scale(1,1.07)">4000</text>
<text transform="translate(239.3,327.5) scale(1,1.07)">5000</text>
<text transform="translate(239.3,236.7) scale(1,1.07)">6000</text>
<text transform="translate(239.3,145.8) scale(1,1.07)">7000</text>
<text transform="translate(239.3,54.9) scale(1,1.07)">8000</text>
</g>
<g font-size="23.5" text-anchor="middle">
<text transform="translate(254.0,811.6) scale(1,1.07)">0</text>
<text transform="translate(366.4,811.6) scale(1,1.07)">1000</text>
<text transform="translate(478.8,811.6) scale(1,1.07)">2000</text>
<text transform="translate(591.1,811.6) scale(1,1.07)">3000</text>
<text transform="translate(703.5,811.6) scale(1,1.07)">4000</text>
<text transform="translate(815.9,811.6) scale(1,1.07)">5000</text>
<text transform="translate(928.2,811.6) scale(1,1.07)">6000</text>
<text transform="translate(1040.6,811.6) scale(1,1.07)">7000</text>
<text transform="translate(1153.0,811.6) scale(1,1.07)">8000</text>
</g>
<g class="ax" transform="translate(679.5,852.3)"><text transform="scale(0.76,1)" x="0" y="0" font-size="26.5" font-weight="bold">R</text><text x="14.5" y="6.5" font-size="17" font-weight="bold" font-style="italic">x</text><text x="24" y="0" font-size="26" font-weight="bold" font-style="italic">,</text><text x="38.3" y="0" font-size="26" font-weight="bold">м</text></g>
<g class="ax" transform="translate(163.4,444.5) rotate(-90)"><text transform="scale(0.76,1)" x="0" y="0" font-size="26.5" font-weight="bold">R</text><text x="14" y="6.5" font-size="17" font-weight="bold" font-style="italic">y</text><text x="26" y="0" font-size="26" font-weight="bold" font-style="italic">,</text><text x="40.5" y="0" font-size="26" font-weight="bold">м</text></g>
<rect x="1189.9" y="546.6" width="37.4" height="22" rx="1.2" fill="#7d0000" stroke="#290000" stroke-width="1.4"/>
<text transform="translate(1239,565.4) scale(1,1.08)" font-size="24.5">&gt; 0,9</text>
<rect x="1189.9" y="575.6" width="37.4" height="22" rx="1.2" fill="#a00000" stroke="#340000" stroke-width="1.4"/>
<text transform="translate(1239,594.4) scale(1,1.08)" font-size="24.5">&lt; 0,9</text>
<rect x="1189.9" y="604.7" width="37.4" height="22" rx="1.2" fill="#d00000" stroke="#440000" stroke-width="1.4"/>
<text transform="translate(1239,623.5) scale(1,1.08)" font-size="24.5">&lt; 0,8</text>
<rect x="1189.9" y="633.8" width="37.4" height="22" rx="1.2" fill="#ff1405" stroke="#540601" stroke-width="1.4"/>
<text transform="translate(1239,652.5) scale(1,1.08)" font-size="24.5">&lt; 0,7</text>
<rect x="1189.9" y="662.8" width="37.4" height="22" rx="1.2" fill="#ff8c00" stroke="#542e00" stroke-width="1.4"/>
<text transform="translate(1239,681.6) scale(1,1.08)" font-size="24.5">&lt; 0,6</text>
<rect x="1189.9" y="691.9" width="37.4" height="22" rx="1.2" fill="#ffff00" stroke="#545400" stroke-width="1.4"/>
<text transform="translate(1239,710.6) scale(1,1.08)" font-size="24.5">&lt; 0,5</text>
<rect x="1189.9" y="720.9" width="37.4" height="22" rx="1.2" fill="#bcff0a" stroke="#3e5403" stroke-width="1.4"/>
<text transform="translate(1239,739.7) scale(1,1.08)" font-size="24.5">&lt; 0,4</text>
<rect x="1189.9" y="750.0" width="37.4" height="22" rx="1.2" fill="#10ff1e" stroke="#055409" stroke-width="1.4"/>
<text transform="translate(1239,768.8) scale(1,1.08)" font-size="24.5">&lt; 0,3</text>
<rect x="1189.9" y="779.0" width="37.4" height="22" rx="1.2" fill="#0ac81e" stroke="#034209" stroke-width="1.4"/>
<text transform="translate(1239,797.8) scale(1,1.08)" font-size="24.5">&lt; 0,2</text>
<rect x="1189.9" y="808.0" width="37.4" height="22" rx="1.2" fill="#0f8c28" stroke="#042e0d" stroke-width="1.4"/>
<text transform="translate(1239,826.8) scale(1,1.08)" font-size="24.5">&lt; 0,1</text>
<rect x="1189.9" y="837.1" width="37.4" height="22" rx="1.2" fill="#0e6e34" stroke="#042411" stroke-width="1.4"/>
<text transform="translate(1239,855.9) scale(1,1.08)" font-size="24.5">&lt; 0</text>
<rect x="1184" y="93" width="83" height="55" fill="#fff" stroke="#080808" stroke-width="3.2"/>
<text transform="translate(1224.8,131) scale(1,1.08)" font-size="24.5" text-anchor="middle">1</text>
<rect x="1184" y="171" width="83" height="55" fill="#fff" stroke="#080808" stroke-width="3.2"/>
<text transform="translate(1224.8,209) scale(1,1.08)" font-size="24.5" text-anchor="middle">2</text>
<rect x="1184" y="248" width="83" height="55" fill="#fff" stroke="#080808" stroke-width="3.2"/>
<text transform="translate(1224.8,286) scale(1,1.08)" font-size="24.5" text-anchor="middle">3</text>
<rect x="1182" y="326" width="83" height="55" fill="#fff" stroke="#080808" stroke-width="3.2"/>
<text transform="translate(1222.8,364) scale(1,1.08)" font-size="24.5" text-anchor="middle">4</text>
<path d="M1135 64L1178 103M1098 182H1176M1176 258L1128 316M1175 337L1132 445" stroke="#0a0a0a" stroke-width="2.6" fill="none"/>
</g>
</svg></body></html>
